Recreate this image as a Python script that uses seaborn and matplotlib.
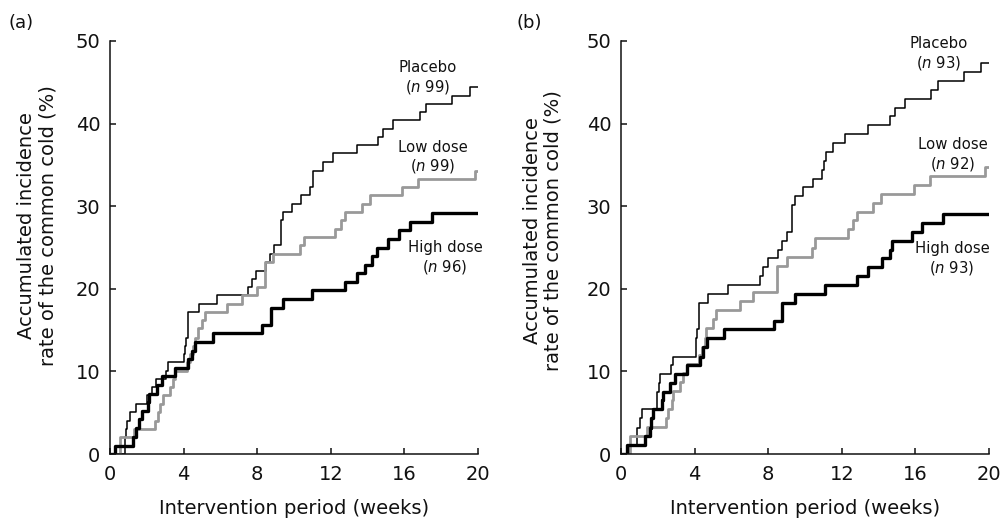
import matplotlib
matplotlib.use("Agg")
import matplotlib.pyplot as plt
import seaborn as sns
import pandas as pd

# ---------------- data ----------------
week_ticks = [0, 4, 8, 12, 16, 20]
pct_ticks = [0, 10, 20, 30, 40, 50]
panel_labels = ["(a)", "(b)"]
group_names = ["Placebo", "Low dose", "High dose"]
n_a = [99, 99, 96]
n_b = [93, 92, 93]

# Panel (a) step change points: week, accumulated %
a_placebo_t = [0, 0.80, 0.84, 0.87, 0.90, 1.09, 1.40, 2.00, 2.30, 2.50, 3.05, 3.17, 4.00, 4.05,
               4.12, 4.26, 4.84, 5.80, 7.52, 7.74, 7.92, 8.46, 8.70, 8.93, 9.29, 9.42, 9.87,
               10.40, 10.87, 11.05, 11.56, 12.10, 13.40, 14.58, 14.86, 15.40, 16.85, 17.20,
               18.56, 19.56, 20]
a_placebo_y = [0, 1.0, 2.0, 3.0, 4.0, 5.1, 6.1, 7.1, 8.1, 9.1, 10.1, 11.1, 12.1, 13.1,
               14.1, 17.2, 18.2, 19.2, 20.2, 21.2, 22.2, 23.2, 24.2, 25.3, 28.3, 29.3, 30.3,
               31.3, 32.3, 34.3, 35.4, 36.4, 37.4, 38.4, 39.4, 40.4, 41.4, 42.4,
               43.4, 44.4, 44.4]

a_low_t = [0, 0.54, 1.30, 2.45, 2.60, 2.72, 2.90, 3.26, 3.44, 3.53, 4.17, 4.35, 4.49, 4.62,
           4.80, 4.98, 5.16, 6.34, 7.16, 7.97, 8.42, 8.88, 10.33, 10.54, 12.23, 12.55, 12.77,
           13.68, 14.13, 15.85, 16.76, 19.85, 20]
a_low_y = [0, 2.0, 3.0, 4.0, 5.1, 6.1, 7.1, 8.1, 9.1, 10.1, 11.1, 12.1, 13.1, 14.1,
           15.2, 16.2, 17.2, 18.2, 19.2, 20.2, 23.2, 24.2, 25.3, 26.3, 27.3, 28.3, 29.3,
           30.3, 31.3, 32.3, 33.3, 34.3, 34.3]

a_high_t = [0, 0.27, 1.27, 1.41, 1.60, 1.72, 2.08, 2.14, 2.54, 2.81, 3.53, 4.26, 4.44, 4.62,
            5.62, 8.24, 8.73, 9.42, 10.96, 12.77, 13.41, 13.86, 14.22, 14.49, 15.13, 15.70,
            16.30, 17.50, 20]
a_high_y = [0, 1.0, 2.1, 3.1, 4.2, 5.2, 6.3, 7.3, 8.3, 9.4, 10.4, 11.5, 12.5, 13.5,
            14.6, 15.6, 17.7, 18.8, 19.8, 20.8, 21.9, 22.9, 24.0, 25.0, 26.0, 27.1,
            28.1, 29.2, 29.2]

# Panel (b)
b_placebo_t = [0, 0.50, 0.85, 0.89, 1.03, 1.16, 1.94, 1.97, 2.07, 2.12, 2.70, 2.84, 4.06, 4.10,
               4.15, 4.26, 4.75, 5.83, 7.55, 7.74, 8.00, 8.55, 8.73, 9.00, 9.31, 9.46, 9.87,
               10.45, 10.90, 11.03, 11.14, 11.54, 12.18, 13.44, 14.62, 14.89, 15.43, 16.85,
               17.24, 18.65, 19.55, 20]
b_placebo_y = [0, 1.1, 2.2, 3.2, 4.3, 5.4, 6.5, 7.5, 8.6, 9.7, 10.8, 11.8, 12.9, 14.0,
               15.1, 18.3, 19.4, 20.4, 21.5, 22.6, 23.7, 24.7, 25.8, 26.9, 30.1, 31.2, 32.3,
               33.3, 34.4, 35.5, 36.6, 37.6, 38.7, 39.8, 40.9, 41.9, 43.0, 44.1,
               45.2, 46.2, 47.3, 47.3]

b_low_t = [0, 0.49, 1.39, 2.45, 2.57, 2.75, 2.84, 3.20, 3.39, 3.57, 4.26, 4.38, 4.57, 4.62,
           5.02, 5.16, 6.47, 7.19, 8.46, 9.00, 10.36, 10.56, 12.35, 12.62, 12.80, 13.70,
           14.12, 15.95, 16.80, 19.80, 20]
b_low_y = [0, 2.2, 3.3, 4.3, 5.4, 6.5, 7.6, 8.7, 9.8, 10.9, 12.0, 13.0, 14.1, 15.2,
           16.3, 17.4, 18.5, 19.6, 22.8, 23.9, 25.0, 26.1, 27.2, 28.3, 29.3, 30.4,
           31.5, 32.6, 33.7, 34.8, 34.8]

b_high_t = [0, 0.31, 1.30, 1.58, 1.62, 1.76, 2.21, 2.27, 2.66, 2.93, 3.60, 4.29, 4.47, 4.65,
            5.60, 8.31, 8.73, 9.46, 11.09, 12.85, 13.44, 14.17, 14.62, 14.71, 15.80, 16.34,
            17.52, 20]
b_high_y = [0, 1.1, 2.2, 3.2, 4.3, 5.4, 6.5, 7.5, 8.6, 9.7, 10.8, 11.8, 12.9, 14.0,
            15.1, 16.1, 18.3, 19.4, 20.4, 21.5, 22.6, 23.7, 24.7, 25.8, 26.9, 28.0,
            29.0, 29.0]

# ---------------- style ----------------
sns.set_theme(style="ticks")
plt.rcParams["font.family"] = ["DejaVu Sans"]
plt.rcParams["mathtext.fontset"] = "dejavusans"

colors = {"Placebo": "#000000", "Low dose": "#999999", "High dose": "#000000"}
widths = {"Placebo": 1.1, "Low dose": 2.0, "High dose": 2.4}
txt_color = "#111111"

fig = plt.figure(figsize=(10.01, 5.27), dpi=100)
ax_a = fig.add_axes([110 / 1001, 73 / 527, 368 / 1001, 413 / 527])
ax_b = fig.add_axes([621 / 1001, 73 / 527, 368 / 1001, 413 / 527])

panels = [
    (ax_a, [(a_placebo_t, a_placebo_y), (a_low_t, a_low_y), (a_high_t, a_high_y)], n_a,
     [(17.28, 45.5), (17.55, 35.9), (18.2, 23.7)]),
    (ax_b, [(b_placebo_t, b_placebo_y), (b_low_t, b_low_y), (b_high_t, b_high_y)], n_b,
     [(17.26, 48.4), (18.04, 36.2), (17.99, 23.6)]),
]

for i, (ax, series, ns, label_pos) in enumerate(panels):
    for name, (t, y) in zip(group_names, series):
        df = pd.DataFrame({"week": t, "pct": y})
        sns.lineplot(data=df, x="week", y="pct", ax=ax, color=colors[name],
                     linewidth=widths[name], drawstyle="steps-post",
                     estimator=None, sort=False)
    for name, n, (lx, ly) in zip(group_names, ns, label_pos):
        ax.text(lx, ly, name + "\n($\\mathit{n}$ " + str(n) + ")", ha="center", va="center",
                fontsize=10.7, linespacing=1.2, color=txt_color)
    ax.set_xlim(0, 20)
    ax.set_ylim(0, 50)
    ax.set_xticks(week_ticks)
    ax.set_yticks(pct_ticks)
    ax.tick_params(direction="in", length=4, width=1.1, labelsize=14, colors=txt_color)
    ax.tick_params(axis="x", pad=8)
    ax.tick_params(axis="y", pad=7)
    for s in ["left", "bottom"]:
        ax.spines[s].set_linewidth(1.1)
        ax.spines[s].set_color(txt_color)
    sns.despine(ax=ax)
    ax.set_xlabel("Intervention period (weeks)", fontsize=14, color=txt_color)
    ax.set_ylabel("Accumulated incidence\nrate of the common cold (%)", fontsize=14,
                  color=txt_color, linespacing=1.15)
    ax.xaxis.set_label_coords(0.5, -0.109)

ax_a.yaxis.set_label_coords(-0.144, 0.552)
ax_b.yaxis.set_label_coords(-0.158, 0.54)

fig.text(8 / 1001, 1 - 23 / 527, panel_labels[0], fontsize=13, va="center", ha="left",
         color=txt_color)
fig.text(517 / 1001, 1 - 23 / 527, panel_labels[1], fontsize=13, va="center", ha="left",
         color=txt_color)

fig.savefig("out.png", dpi=100)
